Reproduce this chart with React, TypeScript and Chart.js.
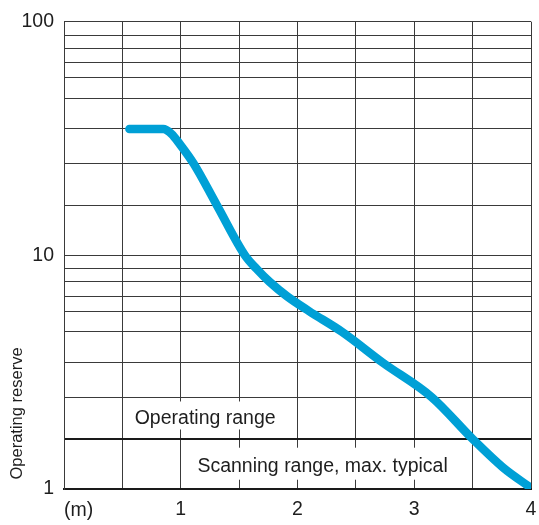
import React, { useEffect, useRef } from 'react';
import { Chart, registerables, LogarithmicScale } from 'chart.js';

// ---- data ----
const distanceM = [0.56, 0.85, 0.92, 0.99, 1.11, 1.31, 1.55, 1.65, 1.76, 1.91, 2.1, 2.38, 2.73, 3.15, 3.5, 3.76, 4.0];
const operatingReserve = [40, 40, 38.6, 35.7, 30, 20, 10, 9, 8, 7, 6, 5, 4, 3, 2, 1.43, 1.02];
const xGridValues = [0, 0.5, 1, 1.5, 2, 2.5, 3, 3.5, 4];
const xTickLabels = ['', '', '1', '', '2', '', '3', '', '4'];
const yGridValues = [1, 2, 3, 4, 5, 6, 7, 8, 9, 10, 20, 30, 40, 50, 60, 70, 80, 90, 100];
const yLabeledValues = [1, 10, 100];
const xUnitLabel = '(m)';
const yTitle = 'Operating reserve';
const upperBandLabel = 'Operating range';
const lowerBandLabel = 'Scanning range, max. typical';
const operatingLimit = 2;

// ---- grid warp of the printed chart (position of 1..10 inside one decade) ----
const DECADE_POS = [0, 0.214, 0.393, 0.541, 0.673, 0.761, 0.825, 0.887, 0.942, 1];

function warp(v: number): number {
  let d = Math.floor(Math.log10(v) + 1e-9);
  let m = v / Math.pow(10, d);
  if (m >= 10 - 1e-9) { m /= 10; d += 1; }
  if (m < 1) { m *= 10; d -= 1; }
  const i = Math.max(0, Math.min(8, Math.floor(m) - 1));
  return d + DECADE_POS[i] + (m - (i + 1)) * (DECADE_POS[i + 1] - DECADE_POS[i]);
}
function unwarp(p: number): number {
  const d = Math.floor(p);
  const f = p - d;
  let i = 0;
  while (i < 8 && DECADE_POS[i + 1] < f) i++;
  const m = i + 1 + (f - DECADE_POS[i]) / (DECADE_POS[i + 1] - DECADE_POS[i]);
  return m * Math.pow(10, d);
}

class GridWarpScale extends LogarithmicScale {
  static id = 'gridwarp';
  static defaults = {};
  getPixelForValue(value: any) {
    if (value === undefined || value === null || isNaN(value) || value <= 0) return NaN;
    const a = warp(this.min), b = warp(this.max);
    return this.getPixelForDecimal((warp(value) - a) / (b - a));
  }
  getValueForPixel(pixel: number) {
    const a = warp(this.min), b = warp(this.max);
    return unwarp(a + this.getDecimalForPixel(pixel) * (b - a));
  }
}

Chart.register(...registerables, GridWarpScale as any);

const FONT = '"Liberation Sans", Arial, sans-serif';
const TEXT = '#1e1e1e';
const GRID = '#3a3a3a';
const CURVE = '#00a0d6';

const labelsPlugin = {
  id: 'bandLabels',
  beforeDatasetsDraw(chart: any) {
    const { ctx, chartArea, scales } = chart;
    const y = scales.y;
    const y1 = y.getPixelForValue(1);
    const y2 = y.getPixelForValue(operatingLimit);
    const y3 = y.getPixelForValue(3);
    const L = chartArea.left;
    ctx.save();
    ctx.fillStyle = '#ffffff';
    ctx.fillRect(L + 66, y3 + 4.3, 153, 28);
    ctx.fillRect(L + 126, y2 + 8.7, 268, 32);
    ctx.fillStyle = TEXT;
    ctx.font = '19.5px ' + FONT;
    ctx.textAlign = 'left';
    ctx.textBaseline = 'alphabetic';
    ctx.fillText(upperBandLabel, L + 70.7, y2 - 15.3);
    ctx.fillText(lowerBandLabel, L + 133.4, y1 - 17.3);
    ctx.restore();
  },
  afterDraw(chart: any) {
    const { ctx, chartArea } = chart;
    ctx.save();
    ctx.fillStyle = TEXT;
    ctx.textBaseline = 'alphabetic';
    ctx.textAlign = 'left';
    ctx.font = '19.5px ' + FONT;
    ctx.fillText(xUnitLabel, chartArea.left, chartArea.bottom + 26.7);
    ctx.font = '16.5px ' + FONT;
    ctx.translate(22, chartArea.bottom - 9.5);
    ctx.rotate(-Math.PI / 2);
    ctx.fillText(yTitle, 0, 0);
    ctx.restore();
  },
};

export default function App() {
  const canvasRef = useRef<HTMLCanvasElement | null>(null);

  useEffect(() => {
    document.body.style.margin = '0';
    const canvas = canvasRef.current;
    if (!canvas) return;
    const chart = new Chart(canvas, {
      type: 'line',
      data: {
        datasets: [
          {
            data: distanceM.map((x, i) => ({ x, y: operatingReserve[i] })),
            borderColor: CURVE,
            borderWidth: 8.5,
            borderCapStyle: 'round',
            borderJoinStyle: 'round',
            pointRadius: 0,
            fill: false,
            cubicInterpolationMode: 'monotone',
          } as any,
        ],
      },
      options: {
        animation: false,
        responsive: true,
        maintainAspectRatio: false,
        layout: { padding: { top: 21, right: 0, left: 0, bottom: 0 } },
        plugins: { legend: { display: false }, tooltip: { enabled: false } },
        scales: {
          x: {
            type: 'linear',
            min: 0,
            max: 4,
            afterBuildTicks: (s: any) => {
              s.ticks = xGridValues.map((v) => ({ value: v }));
            },
            afterFit: (s: any) => {
              s.height = 36;
              s.paddingRight = 8;
              s.paddingLeft = 0;
            },
            ticks: {
              autoSkip: false,
              maxRotation: 0,
              padding: 9,
              color: TEXT,
              font: { family: FONT, size: 19.5 },
              callback: (v: any) => {
                const i = xGridValues.indexOf(Number(v));
                return i >= 0 ? xTickLabels[i] : '';
              },
            },
            grid: { color: GRID, lineWidth: 1, drawTicks: false },
            border: { display: true, color: '#1a1a1a', width: 2 },
          },
          y: {
            type: 'gridwarp' as any,
            min: 1,
            max: 100,
            afterBuildTicks: (s: any) => {
              s.ticks = yGridValues.map((v) => ({ value: v }));
            },
            afterFit: (s: any) => {
              s.width = 64;
            },
            ticks: {
              autoSkip: false,
              padding: 10,
              color: TEXT,
              font: { family: FONT, size: 19.5 },
              callback: (v: any) => (yLabeledValues.includes(Number(v)) ? String(v) : ''),
            },
            grid: {
              drawTicks: false,
              color: (c: any) => (c.tick && c.tick.value === operatingLimit ? '#1a1a1a' : GRID),
              lineWidth: (c: any) => (c.tick && c.tick.value === operatingLimit ? 2 : 1),
            },
            border: { display: true, color: GRID, width: 1 },
          } as any,
        },
      },
      plugins: [labelsPlugin as any],
    });
    return () => chart.destroy();
  }, []);

  return (
    <div style={{ position: 'relative', width: '539px', height: '525px' }}>
      <canvas ref={canvasRef} />
    </div>
  );
}
